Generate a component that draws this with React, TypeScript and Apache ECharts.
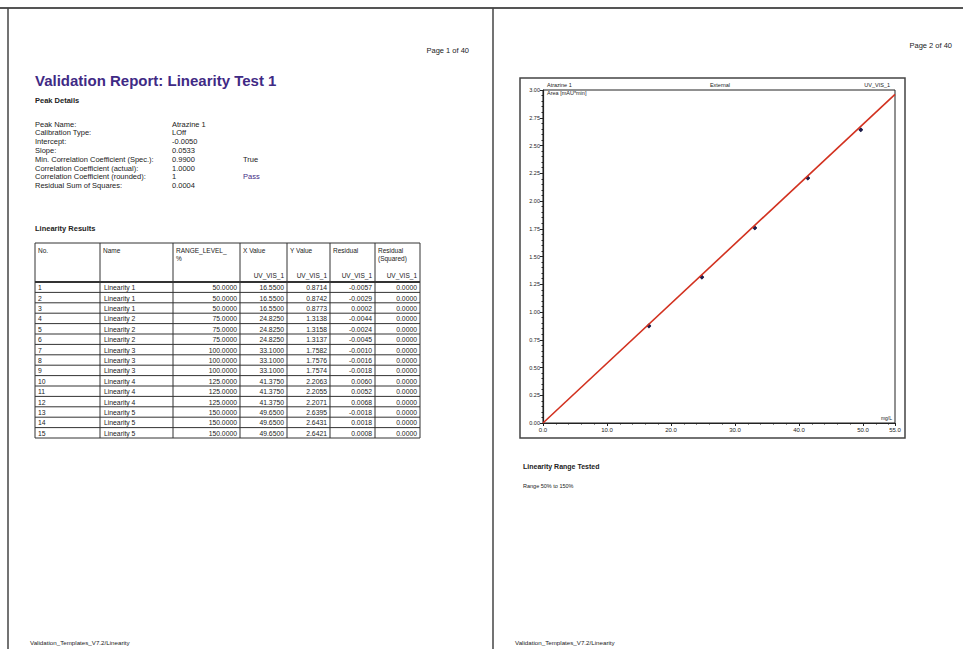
import React, { useEffect, useRef } from 'react';
import * as echarts from 'echarts';

// report details
const detailLabels = [
  'Peak Name:',
  'Calibration Type:',
  'Intercept:',
  'Slope:',
  'Min. Correlation Coefficient (Spec.):',
  'Correlation Coefficient (actual):',
  'Correlation Coefficient (rounded):',
  'Residual Sum of Squares:',
];
const detailValues = ['Atrazine 1', 'LOff', '-0.0050', '0.0533', '0.9900', '1.0000', '1', '0.0004'];
const detailStatus = ['', '', '', '', 'True', '', 'Pass', ''];

// linearity table
const headerTexts = ['No.', 'Name', 'RANGE_LEVEL_\n%', 'X Value', 'Y Value', 'Residual', 'Residual\n(Squared)'];
const headerUnits = ['', '', '', 'UV_VIS_1', 'UV_VIS_1', 'UV_VIS_1', 'UV_VIS_1'];
const rowNo = ['1', '2', '3', '4', '5', '6', '7', '8', '9', '10', '11', '12', '13', '14', '15'];
const rowName = [
  'Linearity 1', 'Linearity 1', 'Linearity 1',
  'Linearity 2', 'Linearity 2', 'Linearity 2',
  'Linearity 3', 'Linearity 3', 'Linearity 3',
  'Linearity 4', 'Linearity 4', 'Linearity 4',
  'Linearity 5', 'Linearity 5', 'Linearity 5',
];
const rangeLevel = [50, 50, 50, 75, 75, 75, 100, 100, 100, 125, 125, 125, 150, 150, 150];
const xValue = [16.55, 16.55, 16.55, 24.825, 24.825, 24.825, 33.1, 33.1, 33.1, 41.375, 41.375, 41.375, 49.65, 49.65, 49.65];
const yValue = [0.8714, 0.8742, 0.8773, 1.3138, 1.3158, 1.3137, 1.7582, 1.7576, 1.7574, 2.2063, 2.2055, 2.2071, 2.6395, 2.6431, 2.6421];
const residual = [-0.0057, -0.0029, 0.0002, -0.0044, -0.0024, -0.0045, -0.001, -0.0016, -0.0018, 0.006, 0.0052, 0.0068, -0.0018, 0.0018, 0.0008];
const residualSq = [0, 0, 0, 0, 0, 0, 0, 0, 0, 0, 0, 0, 0, 0, 0];

// calibration line end points
const fitX = [0, 55];
const fitY = [0, 2.96];

const FONT = '"Liberation Sans", Arial, sans-serif';
const PURPLE = '#3f2a85';

function txt(text: string, x: number, y: number, size: number, opts: any = {}) {
  return {
    type: 'text',
    silent: true,
    style: {
      text,
      x,
      y,
      fill: opts.fill || '#222',
      fontSize: size,
      fontFamily: FONT,
      fontWeight: opts.bold ? 'bold' : 'normal',
      textAlign: opts.align || 'left',
      textVerticalAlign: opts.valign || 'middle',
      lineHeight: opts.lineHeight,
    },
  };
}

function line(x1: number, y1: number, x2: number, y2: number, w = 1, c = '#333') {
  return {
    type: 'line',
    silent: true,
    shape: { x1, y1, x2, y2 },
    style: { stroke: c, lineWidth: w },
  };
}

function buildGraphic() {
  const g: any[] = [];
  // page borders
  g.push(line(0, 8, 963, 8, 2, '#555'));
  g.push(line(8, 8, 8, 649, 1.5, '#444'));
  g.push(line(493, 8, 493, 649, 1.5, '#444'));

  // page 1 header
  g.push(txt('Page 1 of 40', 469, 50, 7.5, { align: 'right' }));
  g.push(txt('Validation Report: Linearity Test 1', 35, 80, 15, { bold: true, fill: PURPLE }));
  g.push(txt('Peak Details', 35, 100, 7.5, { bold: true }));

  detailLabels.forEach((lab, i) => {
    const y = 124 + i * 8.8;
    g.push(txt(lab, 35, y, 7.5));
    g.push(txt(detailValues[i], 172, y, 7.5));
    if (detailStatus[i]) {
      g.push(txt(detailStatus[i], 243, y, 7.5, { fill: i === 6 ? PURPLE : '#222' }));
    }
  });

  g.push(txt('Linearity Results', 35, 228, 7.5, { bold: true }));

  // table
  const cols = [35, 100, 173, 240, 287, 330, 375, 420];
  const top = 243;
  const hb = 282;
  const rh = 10.4;
  const bottom = hb + rh * rowNo.length;
  cols.forEach((x) => g.push(line(x, top, x, bottom, 1, '#333')));
  g.push(line(cols[0], top, cols[7], top, 1, '#333'));
  g.push(line(cols[0], hb, cols[7], hb, 2, '#333'));
  for (let r = 1; r <= rowNo.length; r++) {
    g.push(line(cols[0], hb + r * rh, cols[7], hb + r * rh, 1, '#333'));
  }
  headerTexts.forEach((h, c) => {
    g.push(txt(h, cols[c] + 3, top + 3, 6.5, { valign: 'top', lineHeight: 8.5 }));
    if (headerUnits[c]) g.push(txt(headerUnits[c], cols[c + 1] - 3, hb - 7, 6.5, { align: 'right' }));
  });
  rowNo.forEach((no, r) => {
    const y = hb + r * rh + rh / 2 + 0.5;
    const cells = [
      no,
      rowName[r],
      rangeLevel[r].toFixed(4),
      xValue[r].toFixed(4),
      yValue[r].toFixed(4),
      residual[r].toFixed(4),
      residualSq[r].toFixed(4),
    ];
    cells.forEach((t, c) => {
      if (c < 2) g.push(txt(t, cols[c] + (c === 0 ? 3 : 4), y, 6.8));
      else g.push(txt(t, cols[c + 1] - 3, y, 6.8, { align: 'right' }));
    });
  });

  // page 1 footer
  g.push(txt('Validation_Templates_V7.2/Linearity', 30, 642, 6.2));

  // page 2
  g.push(txt('Page 2 of 40', 952, 45, 7.5, { align: 'right' }));
  g.push({
    type: 'rect',
    silent: true,
    shape: { x: 520, y: 78, width: 385, height: 360 },
    style: { fill: 'none', stroke: '#444', lineWidth: 1.5 },
  });
  g.push(txt('Atrazine 1', 547, 84.5, 5.5));
  g.push(txt('Area [mAU*min]', 547, 93, 5.5));
  g.push(txt('External', 720, 84.5, 5.5, { align: 'center' }));
  g.push(txt('UV_VIS_1', 890, 84.5, 5.5, { align: 'right' }));
  g.push(txt('mg/L', 892, 418, 5, { align: 'right' }));

  g.push(txt('Linearity Range Tested', 523, 466, 7, { bold: true }));
  g.push(txt('Range 50% to 150%', 523, 486, 5.5));
  g.push(txt('Validation_Templates_V7.2/Linearity', 515, 642, 6.2));
  return g;
}

export default function App() {
  const chartRef = useRef<HTMLDivElement>(null);

  useEffect(() => {
    if (!chartRef.current) return undefined;
    const chart = echarts.init(chartRef.current, null, { renderer: 'svg' });

    const points = xValue.map((x, i) => [x, yValue[i]]);
    const fit = fitX.map((x, i) => [x, fitY[i]]);

    chart.setOption({
      animation: false,
      backgroundColor: '#fff',
      textStyle: { fontFamily: FONT },
      grid: {
        left: 543,
        top: 90,
        width: 352,
        height: 333,
        show: true,
        borderColor: '#222',
        borderWidth: 1,
      },
      xAxis: {
        type: 'value',
        min: 0,
        max: 55,
        interval: 10,
        axisLine: { show: true, lineStyle: { color: '#222', width: 1.2 } },
        axisTick: { show: true, length: 3, lineStyle: { color: '#222' } },
        minorTick: { show: true, splitNumber: 5, length: 1.5, lineStyle: { color: '#222' } },
        splitLine: { show: false },
        axisLabel: {
          fontSize: 6,
          color: '#222',
          margin: 4,
          formatter: (v: number) => v.toFixed(1),
        },
      },
      yAxis: {
        type: 'value',
        min: 0,
        max: 3,
        interval: 0.25,
        axisLine: { show: true, lineStyle: { color: '#222', width: 1.2 } },
        axisTick: { show: true, length: 3, lineStyle: { color: '#222' } },
        minorTick: { show: true, splitNumber: 5, length: 1.5, lineStyle: { color: '#222' } },
        splitLine: { show: false },
        axisLabel: {
          fontSize: 5.5,
          color: '#222',
          margin: 3,
          formatter: (v: number) => v.toFixed(2),
        },
      },
      series: [
        {
          type: 'line',
          data: fit,
          symbol: 'none',
          lineStyle: { color: '#d2311f', width: 1.6 },
          silent: true,
        },
        {
          type: 'scatter',
          data: points,
          symbol: 'diamond',
          symbolSize: 4.5,
          itemStyle: { color: '#1d1d4a' },
        },
      ],
      graphic: buildGraphic(),
    });

    return () => {
      chart.dispose();
    };
  }, []);

  return (
    <div
      ref={chartRef}
      style={{ position: 'fixed', left: 0, top: 0, width: '963px', height: '649px' }}
    />
  );
}
